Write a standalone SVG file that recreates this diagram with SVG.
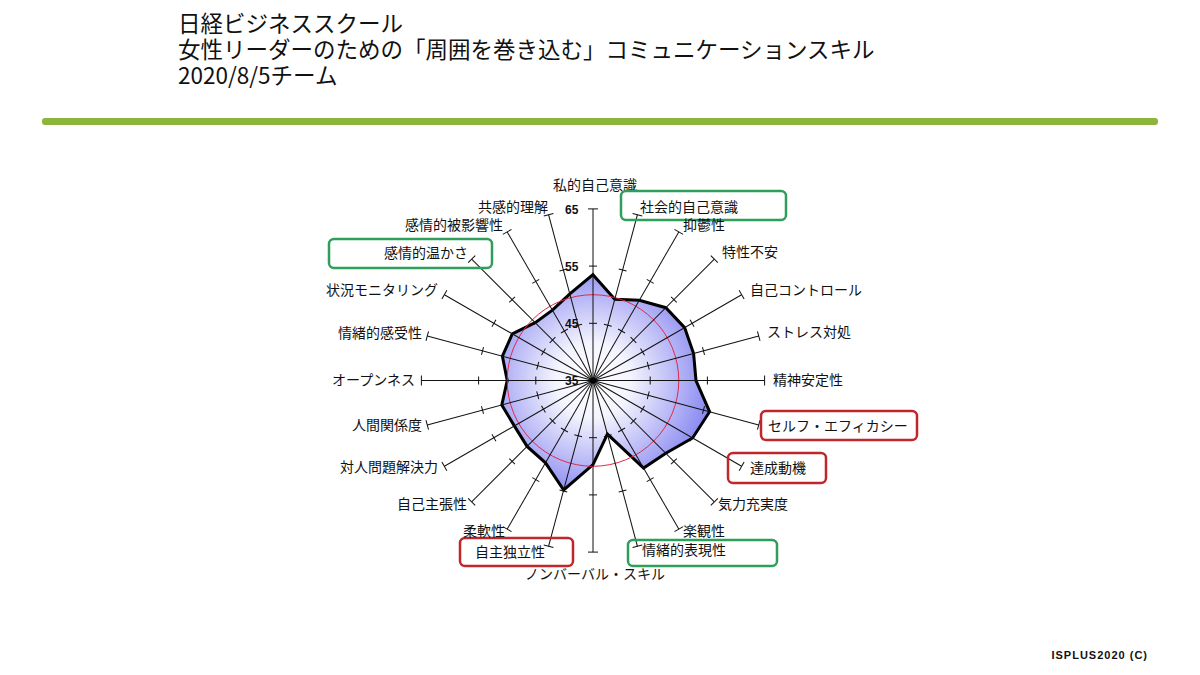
<svg xmlns="http://www.w3.org/2000/svg" xmlns:xlink="http://www.w3.org/1999/xlink" width="1200" height="675" viewBox="0 0 1200 675">
<style>
.t{font-family:"Noto Sans CJK JP","Noto Sans",sans-serif;font-size:22.5px;fill:#111}
.l{font-family:"Noto Sans CJK JP","Noto Sans",sans-serif;font-size:14px;fill:#111}
.v{font-family:"Liberation Sans",Arial,sans-serif;font-size:12px;font-weight:bold;fill:#111}
.ax{stroke:#111;stroke-width:1;fill:none}
.gb{fill:none;stroke:#2e9e5a;stroke-width:2.5}
.rb{fill:none;stroke:#c0262b;stroke-width:2.5}
</style>
<defs>
<radialGradient id="g" cx="593" cy="380.5" r="125" gradientUnits="userSpaceOnUse">
<stop offset="0" stop-color="#ffffff"/><stop offset="0.3" stop-color="#f4f4fe"/><stop offset="1" stop-color="#8080f0"/>
</radialGradient>
<g id="axis">
<line class="ax" x1="593" y1="380.5" x2="593" y2="208.9"/>
<line class="ax" x1="589" y1="323.3" x2="597" y2="323.3"/>
<line class="ax" x1="589" y1="266.1" x2="597" y2="266.1"/>
<line class="ax" x1="588" y1="208.9" x2="598" y2="208.9"/>
</g>
</defs>
<rect width="1200" height="675" fill="#fff"/>
<g id="title">
<text class="t" x="178" y="32">日経ビジネススクール</text>
<text class="t" x="178" y="58">女性リーダーのための「周囲を巻き込む」コミュニケーションスキル</text>
<text class="t" x="178" y="84">2020/8/5チーム</text>
<rect x="42" y="118" width="1116" height="7" rx="3" fill="#8db53b"/>
</g>
<g id="chart">
<polygon fill="url(#g)" stroke="#000" stroke-width="3" stroke-linejoin="miter" points="593,274.7 614.8,299.3 639.3,300.2 665.8,307.7 684.6,327.6 693.6,353.6 696,380.5 709.6,411.7 692.6,438 665.8,453.3 643.6,468.1 607.4,434.1 593,464.6 563.7,490 545.5,462.8 527.1,446.4 514.3,425.9 501.8,404.9 507.2,380.5 502.4,356.2 512.3,333.9 535.2,322.7 552.4,310.2 569.8,293.8"/>
<circle cx="593" cy="380.5" r="85.8" fill="none" stroke="#e0284a" stroke-width="1"/>
<g id="connectors">
<use xlink:href="#axis"/>
<use xlink:href="#axis" transform="rotate(15 593 380.5)"/>
<use xlink:href="#axis" transform="rotate(30 593 380.5)"/>
<use xlink:href="#axis" transform="rotate(45 593 380.5)"/>
<use xlink:href="#axis" transform="rotate(60 593 380.5)"/>
<use xlink:href="#axis" transform="rotate(75 593 380.5)"/>
<use xlink:href="#axis" transform="rotate(90 593 380.5)"/>
<use xlink:href="#axis" transform="rotate(105 593 380.5)"/>
<use xlink:href="#axis" transform="rotate(120 593 380.5)"/>
<use xlink:href="#axis" transform="rotate(135 593 380.5)"/>
<use xlink:href="#axis" transform="rotate(150 593 380.5)"/>
<use xlink:href="#axis" transform="rotate(165 593 380.5)"/>
<use xlink:href="#axis" transform="rotate(180 593 380.5)"/>
<use xlink:href="#axis" transform="rotate(195 593 380.5)"/>
<use xlink:href="#axis" transform="rotate(210 593 380.5)"/>
<use xlink:href="#axis" transform="rotate(225 593 380.5)"/>
<use xlink:href="#axis" transform="rotate(240 593 380.5)"/>
<use xlink:href="#axis" transform="rotate(255 593 380.5)"/>
<use xlink:href="#axis" transform="rotate(270 593 380.5)"/>
<use xlink:href="#axis" transform="rotate(285 593 380.5)"/>
<use xlink:href="#axis" transform="rotate(300 593 380.5)"/>
<use xlink:href="#axis" transform="rotate(315 593 380.5)"/>
<use xlink:href="#axis" transform="rotate(330 593 380.5)"/>
<use xlink:href="#axis" transform="rotate(345 593 380.5)"/>
</g>
<circle cx="593" cy="380.5" r="3" fill="#000"/>
<g id="scale">
<text class="v" x="565" y="214">65</text>
<text class="v" x="565" y="271">55</text>
<text class="v" x="565" y="328">45</text>
<text class="v" x="565" y="385">35</text>
</g>
</g>
<g id="labels">
<text class="l" x="595" y="190" text-anchor="middle">私的自己意識</text>
<g id="n1"><rect class="gb" x="621" y="191" width="165" height="29" rx="5"/><text class="l" x="640" y="212">社会的自己意識</text></g>
<text class="l" x="683" y="230">抑鬱性</text>
<text class="l" x="722" y="257">特性不安</text>
<text class="l" x="750" y="295">自己コントロール</text>
<text class="l" x="767" y="337">ストレス対処</text>
<text class="l" x="773" y="385">精神安定性</text>
<g id="n2"><rect class="rb" x="761" y="411" width="156" height="29" rx="5"/><text class="l" x="768" y="431">セルフ・エフィカシー</text></g>
<g id="n3"><rect class="rb" x="728" y="453" width="98" height="30" rx="5"/><text class="l" x="750" y="473">達成動機</text></g>
<text class="l" x="718" y="509">気力充実度</text>
<text class="l" x="683" y="536">楽観性</text>
<g id="n4"><rect class="gb" x="628" y="540" width="149" height="26" rx="5"/><text class="l" x="642" y="555">情緒的表現性</text></g>
<text class="l" x="595" y="579" text-anchor="middle">ノンバーバル・スキル</text>
<g id="n5"><rect class="rb" x="460" y="538" width="113" height="28" rx="5"/><text class="l" x="475" y="557">自主独立性</text></g>
<text class="l" x="505" y="536" text-anchor="end">柔軟性</text>
<text class="l" x="467" y="509" text-anchor="end">自己主張性</text>
<text class="l" x="438" y="472" text-anchor="end">対人問題解決力</text>
<text class="l" x="422" y="430" text-anchor="end">人間関係度</text>
<text class="l" x="415" y="385" text-anchor="end">オープンネス</text>
<text class="l" x="422" y="338" text-anchor="end">情緒的感受性</text>
<text class="l" x="438" y="295" text-anchor="end">状況モニタリング</text>
<g id="n6"><rect class="gb" x="329" y="239" width="163" height="29" rx="5"/><text class="l" x="468" y="258" text-anchor="end">感情的温かさ</text></g>
<text class="l" x="503" y="230" text-anchor="end">感情的被影響性</text>
<text class="l" x="548" y="212" text-anchor="end">共感的理解</text>
</g>
<text x="1148" y="659" text-anchor="end" font-family="Liberation Sans, Arial, sans-serif" font-size="11" font-weight="bold" letter-spacing="1" fill="#111">ISPLUS2020  (C)</text>
</svg>
